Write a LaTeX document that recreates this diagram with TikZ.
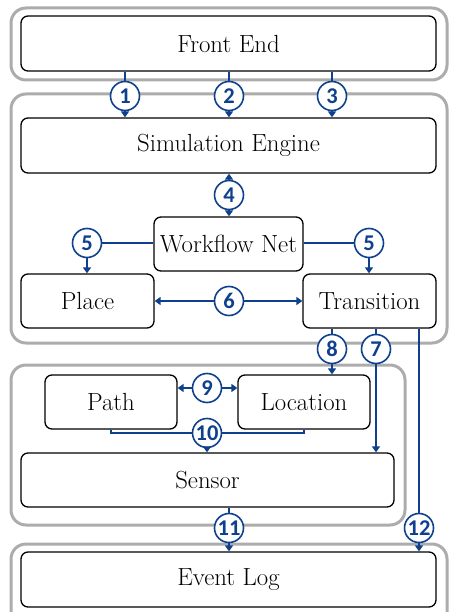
\documentclass[tikz,border=0pt]{standalone}
\usepackage{fontspec}
\newfontfamily\numfont{Carlito}
\usetikzlibrary{arrows.meta}
\definecolor{arrblue}{RGB}{14,64,142}
\definecolor{grpgray}{RGB}{172,172,172}
\tikzset{
  grp/.style={draw=grpgray, line width=3pt, rounded corners=15pt},
  blk/.style={draw=black, line width=1.3pt, rounded corners=7pt, fill=white},
  lbl/.style={font=\fontsize{24.8}{29}\selectfont},
  num/.style={circle, draw=arrblue, fill=white, line width=1.6pt, minimum size=29pt, inner sep=0pt, text=arrblue, font=\numfont\bfseries\fontsize{22.5}{24}\selectfont},
  conn/.style={draw=arrblue, line width=2.8pt},
  tip/.style={-{Triangle[width=8pt,length=6pt]}},
}
\begin{document}
\begin{tikzpicture}[x=1pt,y=-1pt]
\useasboundingbox (0,0) rectangle (469,612);
% groups
\draw[grp] (11,8) rectangle (447,80);
\draw[grp] (11,94) rectangle (447,343);
\draw[grp] (11,365) rectangle (405,525);
\draw[grp] (11,544) rectangle (447,630);
% blocks
\node[blk, lbl, minimum width=415pt, minimum height=55pt] (fe) at (228.5,43.5) {Front End};
\node[blk, lbl, minimum width=415pt, minimum height=55pt] (se) at (228.5,145.5) {Simulation Engine};
\node[blk, lbl, minimum width=149pt, minimum height=54pt] (wn) at (228.5,244) {Workflow Net};
\node[blk, lbl, minimum width=133pt, minimum height=54pt] (pl) at (87.5,301) {Place};
\node[blk, lbl, minimum width=133pt, minimum height=54pt] (tr) at (369.5,301) {Transition};
\node[blk, lbl, minimum width=132pt, minimum height=54pt] (pa) at (111,402) {Path};
\node[blk, lbl, minimum width=132pt, minimum height=54pt] (lo) at (304,402) {Location};
\node[blk, lbl, minimum width=373pt, minimum height=54pt] (sn) at (207.5,480) {Sensor};
\node[blk, lbl, minimum width=415pt, minimum height=55pt] (el) at (228.5,579.5) {Event Log};
% number circles
\node[num] (n1) at (125,96) {1};
\node[num] (n2) at (229,96) {2};
\node[num] (n3) at (332,96) {3};
\node[num] (n4) at (229,195) {4};
\node[num] (n5a) at (87,243) {5};
\node[num] (n5b) at (369,243) {5};
\node[num] (n6) at (229,301) {6};
\node[num] (n8) at (332,349) {8};
\node[num] (n7) at (376,349) {7};
\node[num] (n9) at (207,388) {9};
\node[num] (n10) at (207,433) {10};
\node[num] (n11) at (229,528) {11};
\node[num] (n12) at (419,528) {12};
% connectors
\draw[conn] (fe.south -| n1) -- (n1);
\draw[conn,tip] (n1) -- (se.north -| n1);
\draw[conn] (fe.south -| n2) -- (n2);
\draw[conn,tip] (n2) -- (se.north -| n2);
\draw[conn] (fe.south -| n3) -- (n3);
\draw[conn,tip] (n3) -- (se.north -| n3);
\draw[conn,tip] (n4) -- (se.south -| n4);
\draw[conn,tip] (n4) -- (wn.north -| n4);
\draw[conn] (wn.west |- n5a) -- (n5a);
\draw[conn,tip] (n5a) -- (pl.north -| n5a);
\draw[conn] (wn.east |- n5b) -- (n5b);
\draw[conn,tip] (n5b) -- (tr.north -| n5b);
\draw[conn,tip] (n6) -- (pl.east |- n6);
\draw[conn,tip] (n6) -- (tr.west |- n6);
\draw[conn] (tr.south -| n8) -- (n8);
\draw[conn,tip] (n8) -- (lo.north -| n8);
\draw[conn] (tr.south -| n7) -- (n7);
\draw[conn,tip] (n7) -- (sn.north -| n7);
\draw[conn] (tr.south -| n12) -- (n12);
\draw[conn,tip] (n12) -- (el.north -| n12);
\draw[conn,tip] (n9) -- (pa.east |- n9);
\draw[conn,tip] (n9) -- (lo.west |- n9);
\draw[conn] (pa.south) |- (n10) -| (lo.south);
\draw[conn,tip] (n10) -- (sn.north -| n10);
\draw[conn] (sn.south -| n11) -- (n11);
\draw[conn,tip] (n11) -- (el.north -| n11);
\end{tikzpicture}
\end{document}
